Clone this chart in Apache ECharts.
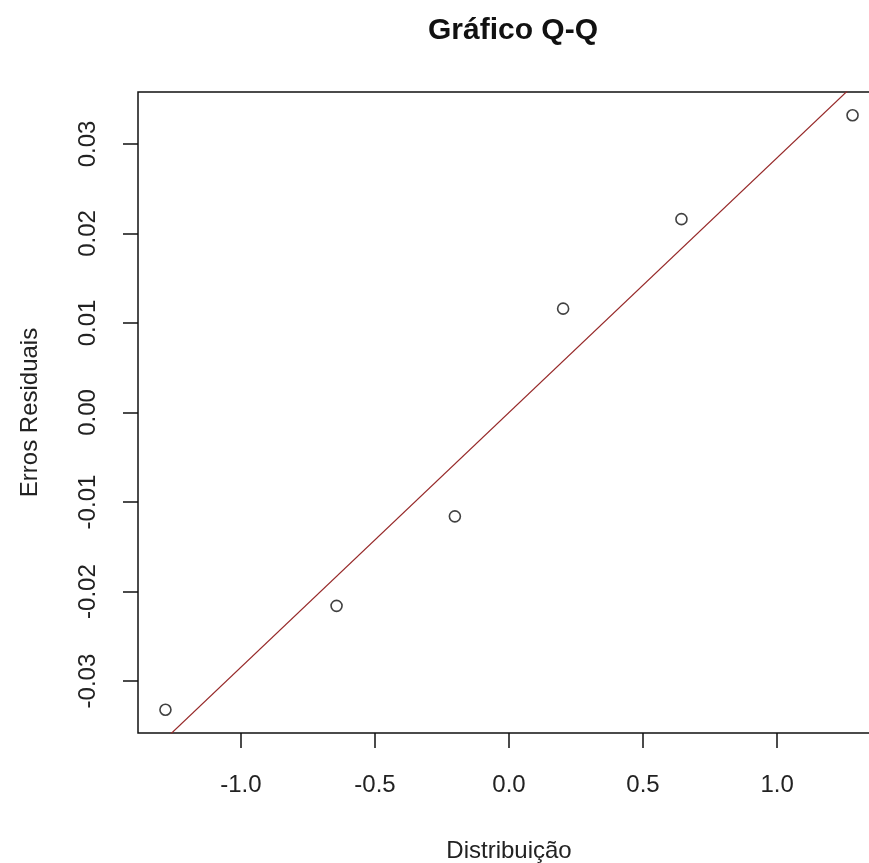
<!DOCTYPE html>
<html>
<head>
    <meta charset="utf-8">
    <script src="https://cdn.jsdelivr.net/npm/echarts@6/dist/echarts.min.js"></script>
    <style>
        html, body { margin: 0; padding: 0; background: #fff; overflow: hidden; }
    </style>
</head>
<body>
<div id="main" style="width: 900px;height:863px;"></div>
<script type="text/javascript">
    // quantis teoricos (normal) e residuos ordenados
    var teoricos = [-1.2816, -0.6433, -0.2019, 0.2019, 0.6433, 1.2816];
    var residuos = [-0.0332, -0.0216, -0.0116, 0.0116, 0.0216, 0.0332];
    // reta qqline
    var qqIntercept = 0.0;
    var qqSlope = 0.02845;
    var retaX = [-1.6, 1.6];
    // ticks
    var xTicks = [-1.0, -0.5, 0.0, 0.5, 1.0];
    var yTicks = [-0.03, -0.02, -0.01, 0.00, 0.01, 0.02, 0.03];

    var pontos = [];
    for (let i = 0; i < teoricos.length; i++) {
        pontos.push([teoricos[i], residuos[i]]);
    }
    var reta = retaX.map(function (x) { return [x, qqIntercept + qqSlope * x]; });

    var fonte = 'Liberation Sans, Arial, sans-serif';
    var myChart = echarts.init(document.getElementById('main'));
    myChart.setOption({
        animation: false,
        backgroundColor: '#fff',
        title: {
            text: 'Gráfico Q-Q',
            left: 508,
            textAlign: 'center',
            top: 11,
            textStyle: { fontFamily: fonte, fontSize: 30, fontWeight: 'bold', color: '#111' }
        },
        grid: {
            left: 138, top: 92, right: 20, bottom: 130,
            show: true, borderColor: '#111', borderWidth: 1.5,
            containLabel: false,
            outerBoundsMode: 'none'
        },
        xAxis: {
            type: 'value',
            min: -1.384, max: 1.384,
            name: 'Distribuição',
            nameLocation: 'middle',
            nameGap: 106,
            nameTextStyle: { fontFamily: fonte, fontSize: 24, color: '#222' },
            splitLine: { show: false },
            axisLine: { show: false, onZero: false },
            axisTick: { show: true, length: 15, lineStyle: { color: '#111', width: 1.5 }, customValues: xTicks },
            axisLabel: {
                customValues: xTicks,
                margin: 40,
                fontFamily: fonte, fontSize: 24, color: '#222',
                formatter: function (v) { return v.toFixed(1); }
            }
        },
        yAxis: {
            type: 'value',
            min: -0.0358, max: 0.0358,
            name: 'Erros Residuais',
            nameLocation: 'middle',
            nameGap: 96,
            nameTextStyle: { fontFamily: fonte, fontSize: 24, color: '#222' },
            splitLine: { show: false },
            axisLine: { show: false, onZero: false },
            axisTick: { show: true, length: 15, lineStyle: { color: '#111', width: 1.5 }, customValues: yTicks },
            axisLabel: {
                customValues: yTicks,
                rotate: 90,
                margin: 38,
                fontFamily: fonte, fontSize: 24, color: '#222',
                formatter: function (v) { return v.toFixed(2); }
            }
        },
        series: [
            {
                type: 'line',
                data: reta,
                symbol: 'none',
                clip: true,
                lineStyle: { color: '#962828', width: 1.2 },
                z: 2
            },
            {
                type: 'scatter',
                data: pontos,
                symbol: 'circle',
                symbolSize: 11,
                itemStyle: { color: 'rgba(255,255,255,0)', borderColor: '#111', borderWidth: 1.6 },
                z: 3
            }
        ]
    });
</script>
</body>
</html>
